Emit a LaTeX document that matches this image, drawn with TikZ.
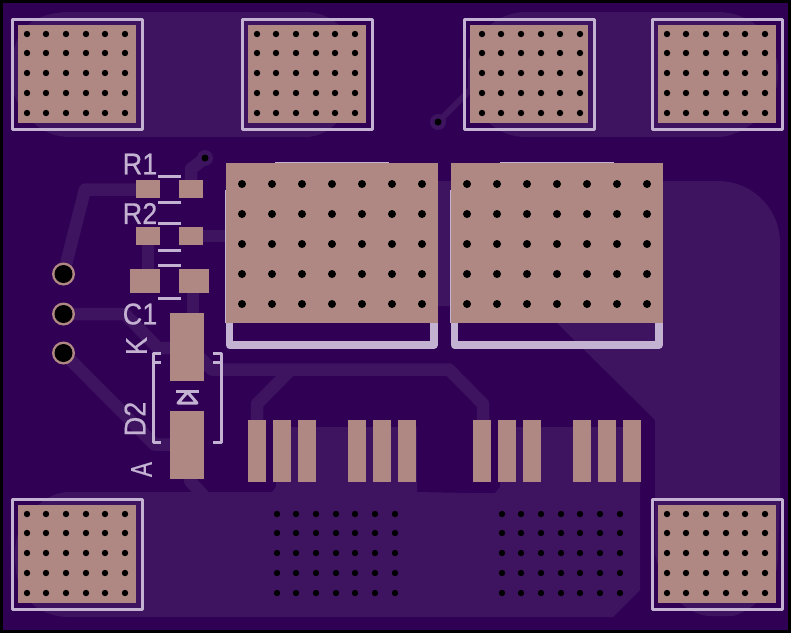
\documentclass[tikz,border=0pt]{standalone}
\usepackage{fontspec}
\setmainfont{Liberation Sans}
\newfontface\silkfont{Liberation Sans}[FakeBold=0.6]
\definecolor{boardbg}{HTML}{300054}
\definecolor{copper}{HTML}{3E1360}
\definecolor{padc}{HTML}{AF8883}
\definecolor{silk}{HTML}{C3B2D1}
\tikzset{
  x=1pt,y=-1pt,
  trace/.style={draw=copper,line width=12.5pt,line join=round,line cap=butt},
  pour/.style={fill=copper,draw=none},
  padbox/.style={fill=padc,draw=none},
  silkline/.style={draw=silk,line width=3pt,line cap=butt,line join=round},
  silkbox/.style={draw=silk,line width=3pt,line join=round},
  silkfat/.style={draw=silk,line width=7.5pt,line join=round},
  label/.style={text=silk,inner sep=0pt,font=\silkfont\fontsize{30}{30}\selectfont},
  viahole/.style={fill=black,draw=none}
}
\newcommand{\holegrid}[4]{% xoffset yoffset
  \foreach \hx in {#3}{\foreach \hy in {#4}{\fill[viahole] (\hx+#1,\hy+#2) circle (3.2pt);}}}
\newcommand{\sqpad}[3]{% pad xoffset, yoffset, hole xoffset
  \fill[padbox] (18+#1,25+#2) rectangle (136+#1,123+#2);
  \draw[silkbox] (12.5+#1,19.5+#2) rectangle (142+#1,129+#2);
  \holegrid{#3}{#2}{27,46,66,86,105,125}{34,53,73,93,113}}
\newcommand{\bigpad}[1]{%
  \draw[silkfat] (229.5+#1,323)--(229.5+#1,345)--(434+#1,345)--(434+#1,323);
  \draw[silk,line width=1pt] (225.5+#1,190)--(225.5+#1,323);
  \draw[silk,line width=1pt] (275+#1,162.5)--(389+#1,162.5);
  \fill[padbox] (226+#1,163) rectangle (438+#1,323);
  \foreach \hx in {242,272,302,332,362,392,422}{\foreach \hy in {184,214,244,274,304}{\fill[viahole] (\hx+#1,\hy) circle (4pt);}}}
\newcommand{\stripgroup}[1]{%
  \foreach \sx in {0,25,50}{\fill[padbox] (248+#1+\sx,420) rectangle (266+#1+\sx,482);}}
\begin{document}
\begin{tikzpicture}
\useasboundingbox (0,0) rectangle (791,633);
\fill[black] (0,0) rectangle (791,633);
\fill[boardbg] (3,3) rectangle (788,630);
% copper pours
\fill[pour] (67,12) -- (308,12) .. controls (322,13) and (332,18) .. (342,28) -- (342,118) .. controls (332,128) and (322,136) .. (308,137) -- (67,137) .. controls (45,136) and (30,122) .. (20,107) .. controls (13,95) and (11,85) .. (11.5,75) .. controls (11,60) and (14,45) .. (20,33) .. controls (30,20) and (45,13) .. (67,12) -- cycle;
\fill[pour] (523,12) -- (720,12) .. controls (745,13) and (765,28) .. (772,45) .. controls (777,58) and (779,65) .. (778,75) .. controls (778,90) and (772,105) .. (760,117) .. controls (750,127) and (735,136) .. (720,137) -- (523,137) .. controls (505,136) and (495,128) .. (488,122) -- (468,90) -- (468,60) -- (488,27) .. controls (497,18) and (510,13) .. (523,12) -- cycle;
\fill[pour] (67,492) -- (272,492) -- (276,487) -- (276,427) -- (417,427) -- (417,492) -- (469,493) -- (495,493) -- (500,487) -- (500,427) -- (640,427) -- (640,590) -- (613,617) -- (67,617) .. controls (45,616) and (30,605) .. (22,592) .. controls (16,580) and (15,565) .. (15,553) .. controls (15,535) and (22,520) .. (35,508) .. controls (45,498) and (55,493) .. (67,492) -- cycle;
\fill[pour] (438,181) -- (720,181) .. controls (750,182) and (778,205) .. (780,240) -- (780,500) -- (778,553) .. controls (778,575) and (772,590) .. (755,604) .. controls (748,610) and (738,615) .. (733,616) -- (707,616) .. controls (695,614) and (687,608) .. (680,603) .. controls (668,590) and (658,572) .. (655,553) -- (655,420) -- (557,323) -- (451,306) -- (438,306) -- cycle;
% via ring copper
\fill[copper] (205,158) circle (8pt);
\fill[copper] (438,122) circle (8pt);
% tracks
\coordinate (hdrA) at (63.5,274);
\coordinate (hdrB) at (63.5,314);
\coordinate (hdrC) at (63.5,353);
\draw[trace] (hdrA) -- (85,189.5) -- (148,189.5);
\draw[trace] (191,189) -- (191,169) -- (205,158);
\draw[trace] (191,236) -- (240,236);
\draw[trace] (148,236) -- (148,280);
\draw[trace] (193,281) -- (193,320);
\draw[trace] (hdrB) -- (125,314) -- (158,348) -- (190,348) -- (212,369.5) -- (449,369.5) -- (483,404) -- (483,425);
\draw[trace] (291,369.5) -- (257,404) -- (257,425);
\draw[trace] (hdrC) -- (154.5,444.5) -- (180,444.5);
\draw[trace] (190,470) -- (190,481) -- (204,496);
\draw[copper,line width=6pt] (438,122) -- (475,85);
% silkscreen
\foreach \ly in {176.5,202,223,250,265.5,298.5}{\draw[silkline] (158,\ly) -- (181,\ly);}
\draw[silkline] (160.5,353) -- (153,353) -- (153,442) -- (160.5,442);
\draw[silkline] (153,362) -- (160.5,362);
\draw[silkline] (213,353) -- (221,353) -- (221,442) -- (213,442);
\draw[silkline] (213,362) -- (221,362);
\draw[silkline] (176,391) -- (199,391);
\draw[silkline] (187.5,392) -- (178,403) -- (197,403) -- cycle;
% pads
\sqpad{0}{0}{0}
\sqpad{230}{0}{230}
\sqpad{452}{0}{455}
\sqpad{640}{0}{640}
\sqpad{0}{480}{0}
\sqpad{640}{480}{640}
\holegrid{0}{480}{277,296,316,336,355,375,395}{34,53,73,93,113}
\holegrid{225}{480}{277,296,316,336,355,375,395}{34,53,73,93,113}
\bigpad{0}
\bigpad{225}
\stripgroup{0}
\stripgroup{100}
\stripgroup{225}
\stripgroup{325}
\fill[padbox] (136,180) rectangle (160,198);
\fill[padbox] (179,180) rectangle (203,198);
\fill[padbox] (136,227) rectangle (160,245);
\fill[padbox] (179,227) rectangle (203,245);
\fill[padbox] (130,269) rectangle (160,293);
\fill[padbox] (179,269) rectangle (209,293);
\fill[padbox] (170,313) rectangle (204,381);
\fill[padbox] (170,411) rectangle (204,479);
\fill[viahole] (205,158) circle (3.5pt);
\fill[viahole] (438,122) circle (3.5pt);
\foreach \c in {hdrA,hdrB,hdrC}{
  \fill[padc] (\c) circle (11.5pt);
  \fill[black] (\c) circle (9pt);
}
% texts
\node[label,xscale=.9] (tR1) at (140,164) {R1};
\node[label,xscale=.9] (tR2) at (140,213.5) {R2};
\node[label,xscale=.9] (tC1) at (140,314) {C1};
\node[label,rotate=90,xscale=.9] (tK) at (136.5,346) {K};
\node[label,rotate=90,xscale=.9] (tD2) at (135,419) {D2};
\node[label,rotate=90,xscale=.75] (tA) at (141.5,469.5) {A};
\end{tikzpicture}
\end{document}
